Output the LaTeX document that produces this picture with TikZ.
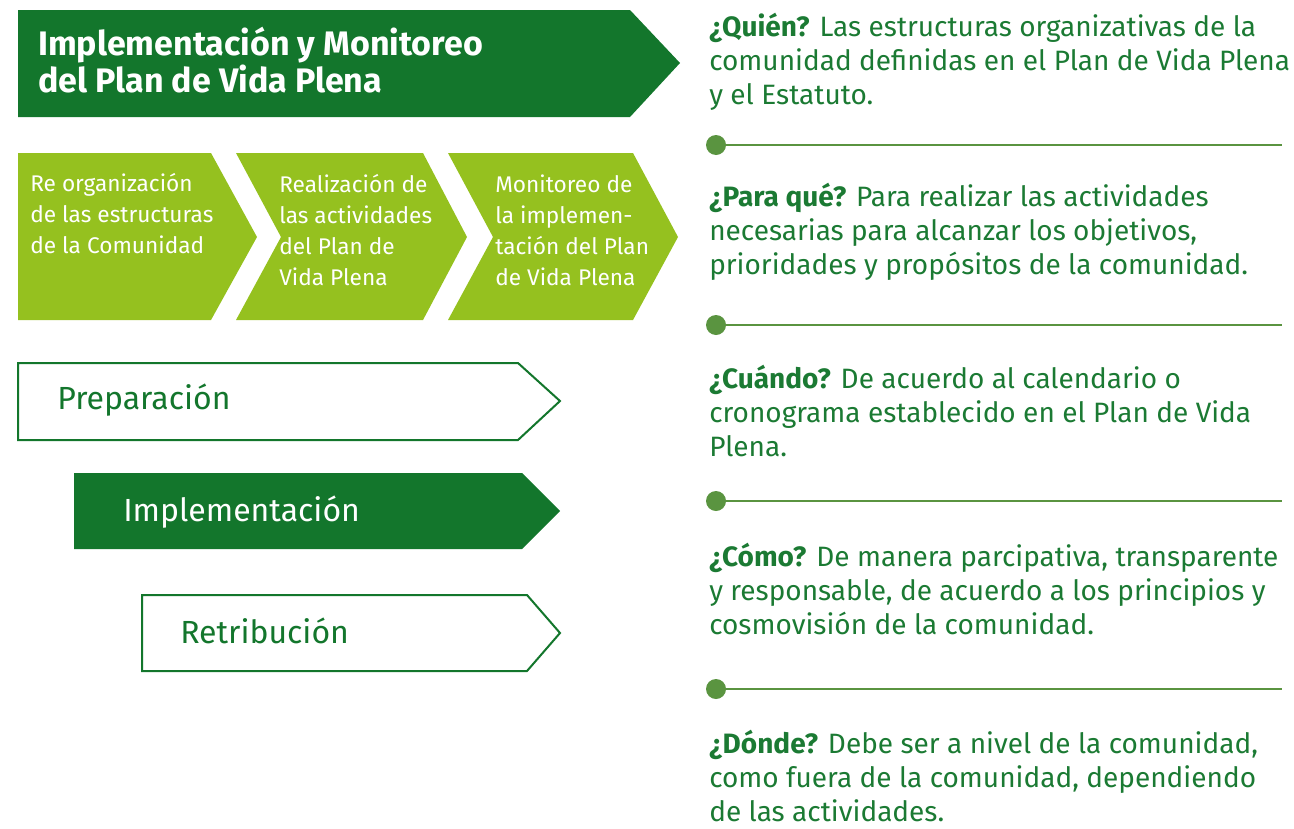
\documentclass[tikz,border=0pt]{standalone}
\usepackage{fontspec}
\setmainfont{Fira Sans}
\definecolor{dkgreen}{HTML}{13762C}
\definecolor{ltgreen}{HTML}{95C11F}
\definecolor{txtgreen}{HTML}{1B7A33}
\definecolor{dotgreen}{HTML}{5A9440}
\tikzset{
  bannerbox/.style={fill=dkgreen},
  chevbox/.style={fill=ltgreen},
  outlinebox/.style={draw=dkgreen, line width=1.5pt, fill=white},
  filledbox/.style={fill=dkgreen},
  titletext/.style={anchor=base west, inner sep=0pt, align=left, text=white,
    font=\bfseries\fontsize{25.5}{27.75}\selectfont},
  chevtext/.style={anchor=base west, inner sep=0pt, align=left, text=white,
    font=\fontsize{17}{23.25}\selectfont},
  phasetext/.style={anchor=base west, inner sep=0pt, font=\fontsize{24}{28}\selectfont},
  infotext/.style={anchor=base west, inner sep=0pt, align=left, text=txtgreen,
    font=\fontsize{21}{25.5}\selectfont},
  sepline/.style={draw=dotgreen, line width=2.2pt},
  sepdot/.style={fill=dotgreen},
}
\begin{document}
\begin{tikzpicture}[x=0.75pt,y=-0.75pt]
\useasboundingbox (0,0) rectangle (1294,828);

% top banner
\fill[bannerbox] (18,10) -- (630,10) -- (680,63) -- (630,117) -- (18,117) -- cycle;
\node[titletext] (title) at (38,92) {Implementación y Monitoreo\\del Plan de Vida Plena};

% chevrons
\fill[chevbox] (18,153) -- (211,153) -- (257,237) -- (211,320) -- (18,320) -- cycle;
\fill[chevbox] (236,153) -- (423,153) -- (467,237) -- (423,320) -- (236,320) -- (281,237) -- cycle;
\fill[chevbox] (448,153) -- (633,153) -- (678,237) -- (633,320) -- (448,320) -- (493,237) -- cycle;
\node[chevtext] (c1) at (30,253) {Re organización\\de las estructuras\\de la Comunidad};
\node[chevtext] (c2) at (279,285) {Realización de\\las actividades\\del Plan de\\Vida Plena};
\node[chevtext] (c3) at (495,285) {Monitoreo de\\la implemen-\\tación del Plan\\de Vida Plena};

% phases
\draw[outlinebox] (18,363) -- (518,363) -- (560,401) -- (518,440) -- (18,440) -- cycle;
\node[phasetext, text=dkgreen] (prep) at (57,409) {Preparación};
\fill[filledbox] (74,473) -- (522,473) -- (560,511) -- (522,549) -- (74,549) -- cycle;
\node[phasetext, text=white] (impl) at (123,521) {Implementación};
\draw[outlinebox] (142,595) -- (527,595) -- (560,633) -- (527,671) -- (142,671) -- cycle;
\node[phasetext, text=dkgreen] (retr) at (180,643) {Retribución};

% separators
\foreach \yy/\nm in {145/s1,325/s2,501/s3,689/s4}{
  \coordinate (\nm a) at (716,\yy);
  \coordinate (\nm b) at (1282,\yy);
  \draw[sepline] (\nm a) -- (\nm b);
  \fill[sepdot] (\nm a) circle (10);
}

% info texts
\node[infotext] (quien) at (709,104) {\textbf{¿Quién?} Las estructuras organizativas de la\\comunidad definidas en el Plan de Vida Plena\\y el Estatuto.};
\node[infotext] (para) at (709,274) {\textbf{¿Para qué?} Para realizar las actividades\\necesarias para alcanzar los objetivos,\\prioridades y propósitos de la comunidad.};
\node[infotext] (cuando) at (709,456) {\textbf{¿Cuándo?} De acuerdo al calendario o\\cronograma establecido en el Plan de Vida\\Plena.};
\node[infotext] (como) at (709,634) {\textbf{¿Cómo?} De manera parcipativa, transparente\\y responsable, de acuerdo a los principios y\\cosmovisión de la comunidad.};
\node[infotext] (donde) at (709,821) {\textbf{¿Dónde?} Debe ser a nivel de la comunidad,\\como fuera de la comunidad, dependiendo\\de las actividades.};
\end{tikzpicture}
\end{document}
